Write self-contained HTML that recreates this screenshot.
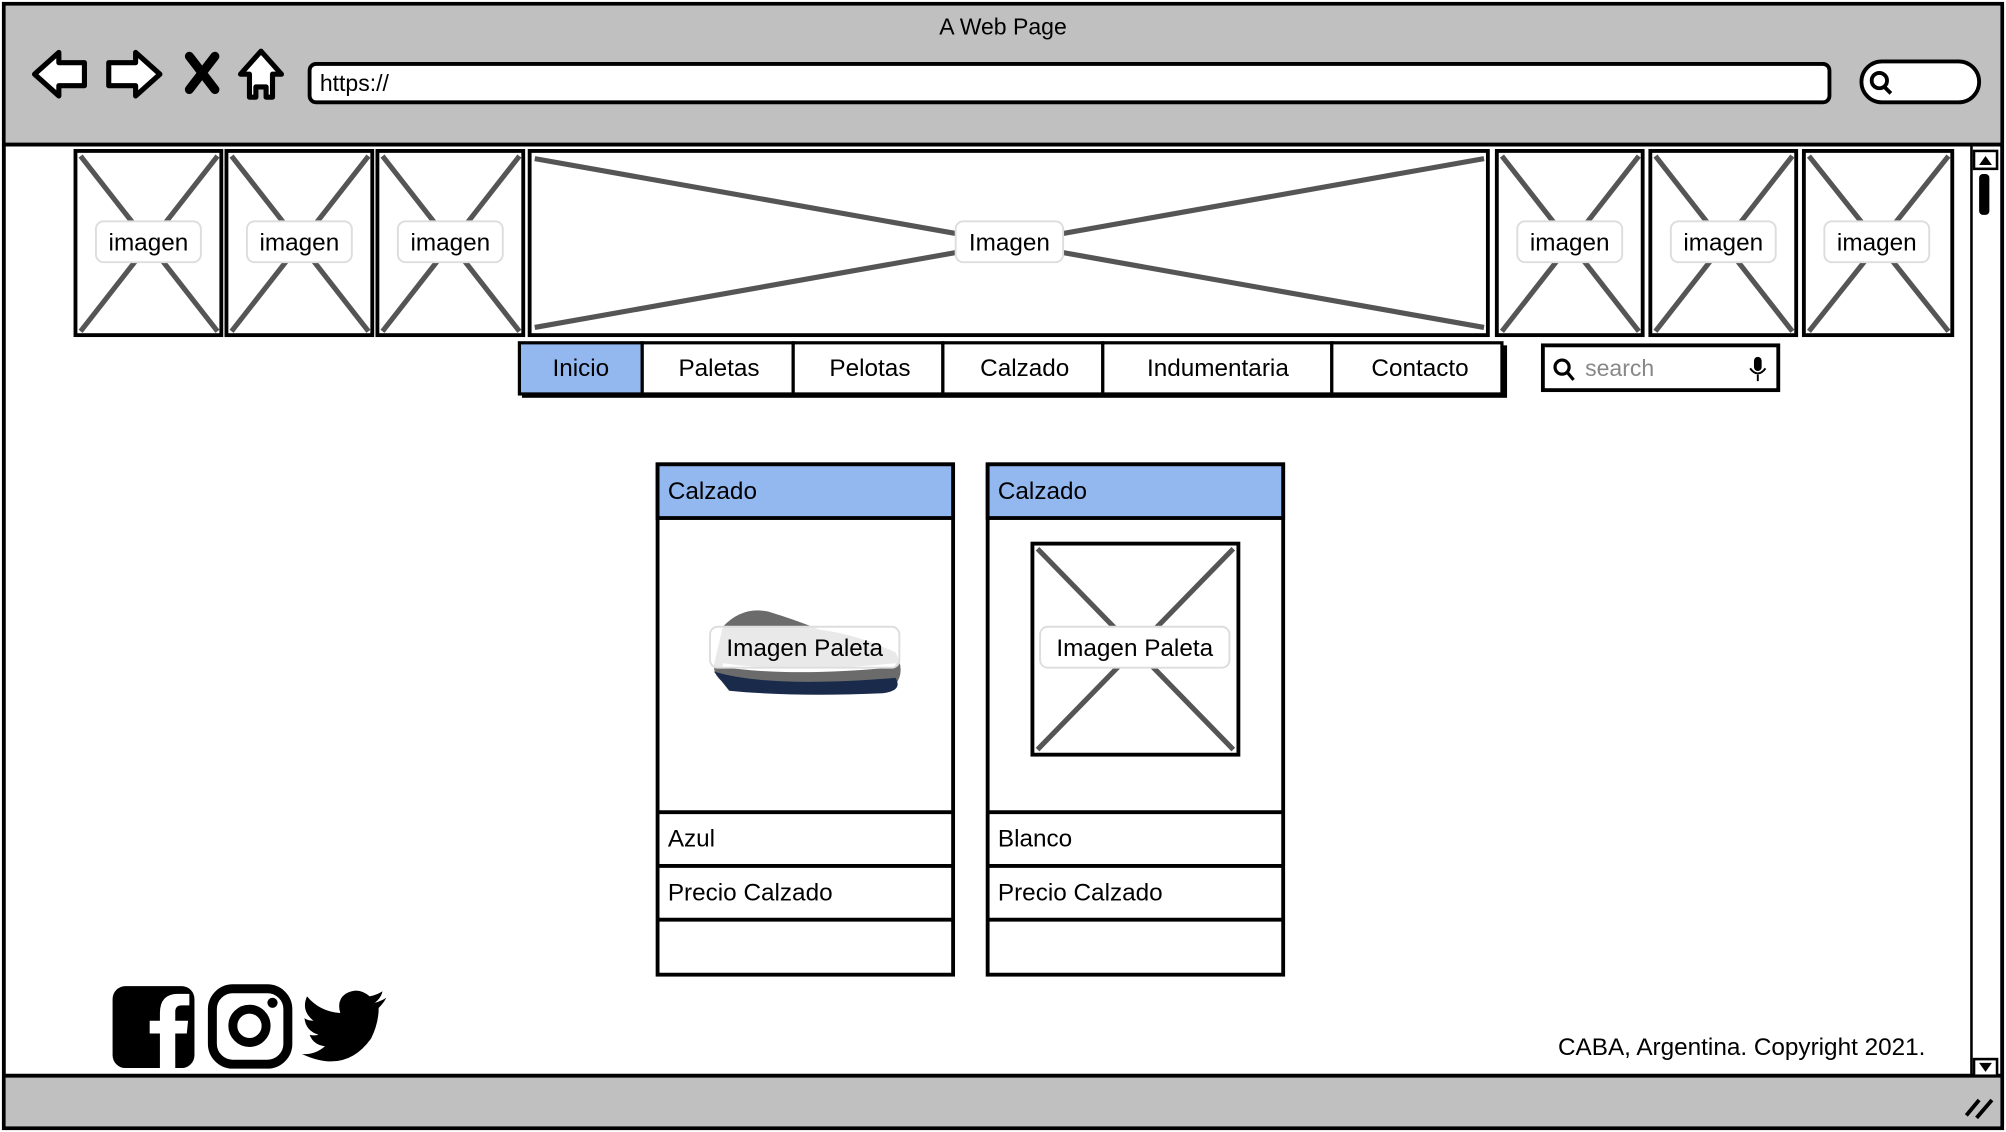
<!DOCTYPE html>
<html><head><meta charset="utf-8"><style>
html,body{margin:0;padding:0;background:#fff;}
svg{display:block;}
text{font-family:"Liberation Sans",sans-serif;}
</style></head><body>
<svg width="2006" height="1132" viewBox="0 0 1568 885" preserveAspectRatio="none" xmlns="http://www.w3.org/2000/svg">
<rect x="0" y="0" width="1568" height="885" fill="#fff"/>
<!-- outer -->
<rect x="3" y="3" width="1562" height="879" fill="#fff" stroke="#000" stroke-width="3"/>
<rect x="4.5" y="4.5" width="1559" height="108" fill="#c0c0c0"/>
<line x1="3" y1="113" x2="1565" y2="113" stroke="#000" stroke-width="3"/>
<rect x="4.5" y="842" width="1559" height="38.5" fill="#c0c0c0"/>
<line x1="3" y1="841" x2="1565" y2="841" stroke="#000" stroke-width="3"/>
<text x="784" y="27" font-size="18" text-anchor="middle">A Web Page</text>
<!-- nav icons -->
<path d="M27 58 L46 41 L46 49 L66 49 L66 67 L46 67 L46 75 Z" fill="#fff" stroke="#000" stroke-width="4" stroke-linejoin="round"/>
<path d="M125 58 L106 41 L106 49 L85 49 L85 67 L106 67 L106 75 Z" fill="#fff" stroke="#000" stroke-width="4" stroke-linejoin="round"/>
<path d="M148 44 L168 70 M168 44 L148 70" stroke="#000" stroke-width="7" stroke-linecap="round"/>
<path d="M204 40 L220 58 L213 58 L213 76 L208 76 L208 68 L200 68 L200 76 L195 76 L195 58 L188 58 Z" fill="#fff" stroke="#000" stroke-width="4" stroke-linejoin="round"/>
<rect x="242" y="50" width="1188" height="30" rx="5" fill="#fff" stroke="#000" stroke-width="3"/>
<text x="250" y="71" font-size="18">https://</text>
<rect x="1455" y="48" width="92" height="32" rx="16" fill="#fff" stroke="#000" stroke-width="3"/>
<circle cx="1469" cy="63" r="6" fill="none" stroke="#000" stroke-width="3"/>
<line x1="1473" y1="68" x2="1478" y2="73" stroke="#000" stroke-width="3"/>
<!-- scrollbar -->
<line x1="1541" y1="114" x2="1541" y2="841" stroke="#000" stroke-width="2"/>
<rect x="1543" y="118" width="18" height="14" fill="#fff" stroke="#000" stroke-width="2"/>
<path d="M1547 129 L1552 122 L1557 129 Z" fill="#000"/>
<rect x="1547" y="136" width="8" height="32" rx="3" fill="#000"/>
<rect x="1543" y="828" width="18" height="13" fill="#fff" stroke="#000" stroke-width="2"/>
<path d="M1547 831 L1552 838 L1557 831 Z" fill="#000"/>
<path d="M1537 872 L1547 860 M1545 874 L1557 860" stroke="#000" stroke-width="3"/>
<!-- image row -->
<g stroke="#555" stroke-width="4">
<line x1="63" y1="122" x2="170" y2="259"/><line x1="170" y1="122" x2="63" y2="259"/>
<line x1="181" y1="122" x2="288" y2="259"/><line x1="288" y1="122" x2="181" y2="259"/>
<line x1="299" y1="122" x2="406" y2="259"/><line x1="406" y1="122" x2="299" y2="259"/>
<line x1="418" y1="124" x2="1160" y2="256"/><line x1="1160" y1="124" x2="418" y2="256"/>
<line x1="1174" y1="122" x2="1281" y2="259"/><line x1="1281" y1="122" x2="1174" y2="259"/>
<line x1="1294" y1="122" x2="1401" y2="259"/><line x1="1401" y1="122" x2="1294" y2="259"/>
<line x1="1414" y1="122" x2="1523" y2="259"/><line x1="1523" y1="122" x2="1414" y2="259"/>
</g>
<g fill="none" stroke="#000" stroke-width="3">
<rect x="59" y="118" width="114" height="144"/>
<rect x="177" y="118" width="114" height="144"/>
<rect x="295" y="118" width="114" height="144"/>
<rect x="414" y="118" width="749" height="144"/>
<rect x="1170" y="118" width="114" height="144"/>
<rect x="1290" y="118" width="114" height="144"/>
<rect x="1410" y="118" width="116" height="144"/>
</g>
<g fill="#fff" stroke="#ddd" stroke-width="1.5">
<rect x="75" y="173" width="82" height="32" rx="6"/>
<rect x="193" y="173" width="82" height="32" rx="6"/>
<rect x="311" y="173" width="82" height="32" rx="6"/>
<rect x="747" y="173" width="84" height="32" rx="6"/>
<rect x="1186" y="173" width="82" height="32" rx="6"/>
<rect x="1306" y="173" width="82" height="32" rx="6"/>
<rect x="1426" y="173" width="82" height="32" rx="6"/>
</g>
<g font-size="19" text-anchor="middle">
<text x="116" y="196">imagen</text><text x="234" y="196">imagen</text><text x="352" y="196">imagen</text>
<text x="789" y="196">Imagen</text><text x="1227" y="196">imagen</text><text x="1347" y="196">imagen</text><text x="1467" y="196">imagen</text>
</g>
<!-- tabs -->
<rect x="408" y="270" width="770" height="41" fill="#000"/>
<rect x="406" y="268" width="96" height="40" fill="#93b8f0" stroke="#000" stroke-width="2.5"/>
<g fill="#fff" stroke="#000" stroke-width="2.5">
<rect x="502" y="268" width="118" height="40"/><rect x="620" y="268" width="117" height="40"/>
<rect x="737" y="268" width="125" height="40"/><rect x="862" y="268" width="179" height="40"/>
<rect x="1041" y="268" width="133" height="40"/>
</g>
<g font-size="19" text-anchor="middle">
<text x="454" y="294">Inicio</text><text x="562" y="294">Paletas</text><text x="680" y="294">Pelotas</text>
<text x="801" y="294">Calzado</text><text x="952" y="294">Indumentaria</text><text x="1110" y="294">Contacto</text>
</g>
<!-- search -->
<rect x="1206" y="270" width="184" height="35" fill="#fff" stroke="#000" stroke-width="3"/>
<circle cx="1221" cy="287" r="5.5" fill="none" stroke="#000" stroke-width="2.5"/>
<line x1="1225" y1="291" x2="1230" y2="297" stroke="#000" stroke-width="2.5"/>
<text x="1239" y="294" font-size="18" fill="#888">search</text>
<rect x="1371" y="279" width="6" height="11" rx="3" fill="#000"/>
<path d="M1368 288 Q1374 296 1380 288 M1374 293 L1374 298" stroke="#000" stroke-width="1.5" fill="none"/>
<!-- cards -->
<g stroke="#000" stroke-width="3">
<rect x="514" y="363" width="231" height="399" fill="#fff"/>
<rect x="514" y="363" width="231" height="42" fill="#93b8f0"/>
<line x1="514" y1="635" x2="745" y2="635"/><line x1="514" y1="677" x2="745" y2="677"/><line x1="514" y1="719" x2="745" y2="719"/>
<rect x="772" y="363" width="231" height="399" fill="#fff"/>
<rect x="772" y="363" width="231" height="42" fill="#93b8f0"/>
<line x1="772" y1="635" x2="1003" y2="635"/><line x1="772" y1="677" x2="1003" y2="677"/><line x1="772" y1="719" x2="1003" y2="719"/>
</g>
<g font-size="19">
<text x="522" y="390">Calzado</text><text x="780" y="390">Calzado</text>
<text x="522" y="662">Azul</text><text x="780" y="662">Blanco</text>
<text x="522" y="704">Precio Calzado</text><text x="780" y="704">Precio Calzado</text>
</g>
<!-- shoe -->
<path d="M565 490 Q580 474 600 478 Q620 484 640 492 Q670 496 700 510 Q708 525 700 535 Q640 542 580 538 Q558 535 558 520 Z" fill="#6b6b6b"/>
<path d="M558 525 Q600 538 700 530 Q706 540 690 542 Q620 545 570 540 Z" fill="#1a2a4a"/>
<path d="M565 520 Q620 528 700 520" stroke="#fff" stroke-width="3" fill="none"/>
<!-- card2 placeholder -->
<line x1="811" y1="429" x2="964" y2="586" stroke="#555" stroke-width="4"/>
<line x1="964" y1="429" x2="811" y2="586" stroke="#555" stroke-width="4"/>
<rect x="807" y="425" width="161" height="165" fill="none" stroke="#000" stroke-width="3"/>
<rect x="555" y="490" width="148" height="32" rx="6" fill="#fff" stroke="#ddd" stroke-width="1.5" fill-opacity="0.85"/>
<rect x="813" y="490" width="148" height="32" rx="6" fill="#fff" stroke="#ddd" stroke-width="1.5"/>
<text x="629" y="513" font-size="19" text-anchor="middle">Imagen Paleta</text>
<text x="887" y="513" font-size="19" text-anchor="middle">Imagen Paleta</text>
<!-- social -->
<rect x="88" y="771" width="64" height="64" rx="10" fill="#000"/>
<path d="M137 835 L137 808 L146 808 L147 798 L137 798 L137 791 Q137 786 142 786 L148 786 L148 777 L139 777 Q125 777 125 792 L125 798 L117 798 L117 808 L125 808 L125 835 Z" fill="#fff"/>
<rect x="166" y="773" width="59" height="59" rx="16" fill="none" stroke="#000" stroke-width="7"/>
<circle cx="195" cy="802" r="13" fill="none" stroke="#000" stroke-width="7"/>
<circle cx="213" cy="784" r="4" fill="#000"/>
<path d="M302 780 Q297 783 293 784 Q298 780 299 775 Q294 778 289 779 Q280 771 270 777 Q263 782 266 792 Q250 791 240 779 Q235 790 245 798 Q240 798 238 796 Q239 806 249 809 Q245 810 242 809 Q245 817 254 818 Q246 825 236 824 Q270 840 290 812 Q296 800 296 788 Q300 784 302 780 Z" fill="#000"/>
<text x="1505" y="825" font-size="19" text-anchor="end">CABA, Argentina. Copyright 2021.</text>
</svg>
</body></html>
